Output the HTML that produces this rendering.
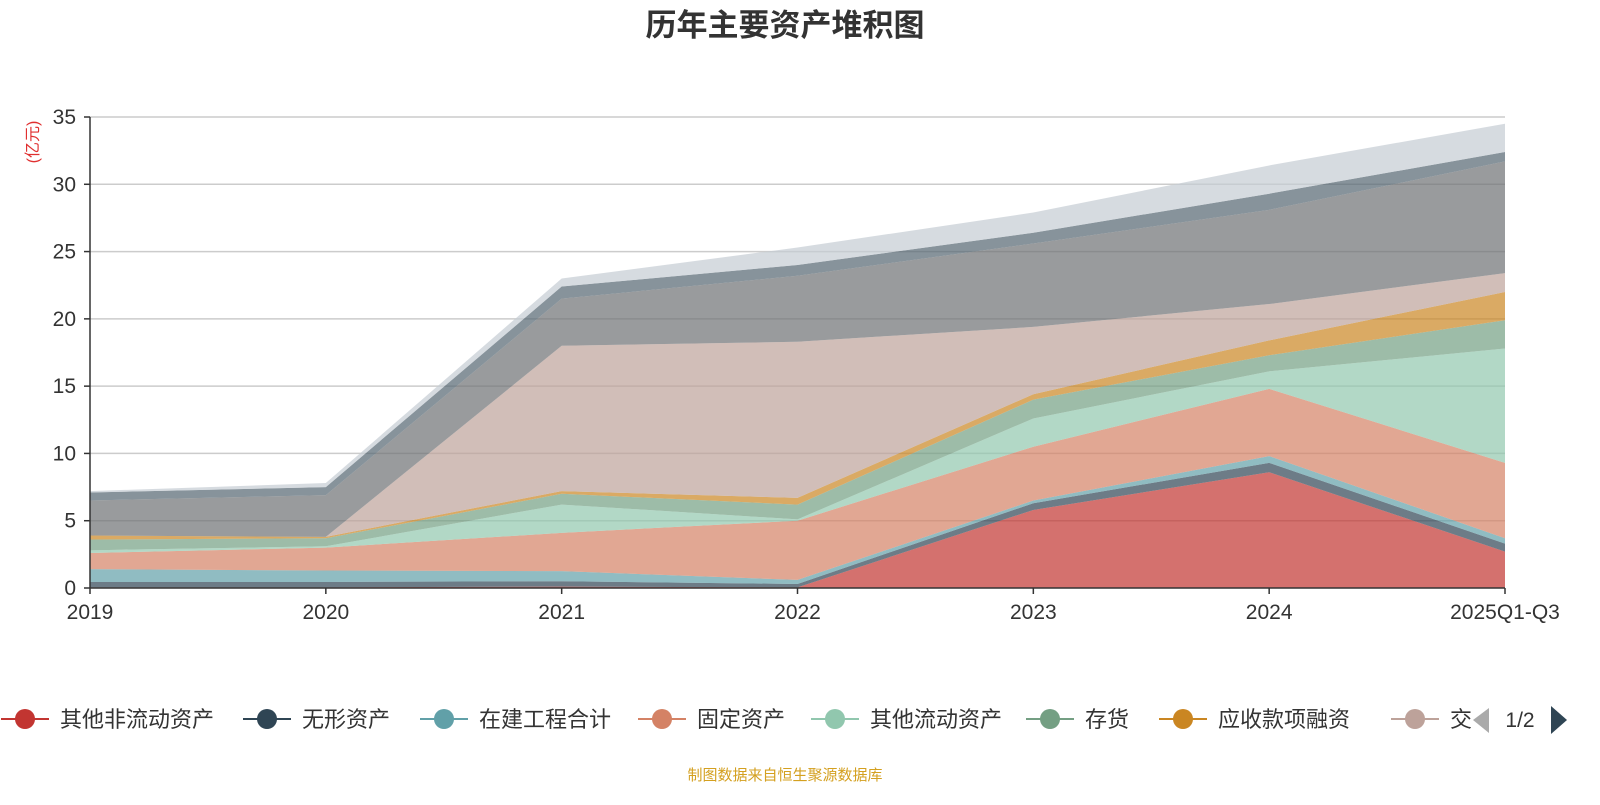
<!DOCTYPE html>
<html><head><meta charset="utf-8"><style>
body{margin:0;background:#fff;font-family:"Liberation Sans","Noto Sans CJK SC",sans-serif;}
svg text{font-family:"Liberation Sans","Noto Sans CJK SC",sans-serif;}
</style></head><body>
<svg id="chart" width="1600" height="800" xmlns="http://www.w3.org/2000/svg">
<text x="785" y="36" text-anchor="middle" font-size="31" font-weight="bold" fill="#333">历年主要资产堆积图</text>
<text transform="translate(38,142) rotate(-90)" text-anchor="middle" font-size="16" fill="#e03030">(亿元)</text>
<g id="grid"></g><g id="areas"></g><g id="axes"></g><g id="legend"></g>
<text x="785" y="780" text-anchor="middle" font-size="15" fill="#d4a020">制图数据来自恒生聚源数据库</text>
</svg>
<script>
const categories=["2019","2020","2021","2022","2023","2024","2025Q1-Q3"];
const seriesNames=["其他非流动资产","无形资产","在建工程合计","固定资产","其他流动资产","存货","应收款项融资","交易性金融资产","货币资金","应收账款","预付款项"];
const s1=[0.05,0.05,0.1,0.05,5.8,8.6,2.7];
const s2=[0.4,0.4,0.4,0.25,0.5,0.7,0.6];
const s3=[0.95,0.85,0.75,0.3,0.2,0.5,0.4];
const s4=[1.2,1.7,2.85,4.4,4.0,5.0,5.6];
const s5=[0.2,0.1,2.1,0.1,2.1,1.3,8.5];
const s6=[0.8,0.6,0.8,1.1,1.4,1.2,2.1];
const s7=[0.3,0.1,0.2,0.5,0.4,1.1,2.1];
const s8=[0.0,0.0,10.8,11.6,5.0,2.7,1.4];
const s9=[2.6,3.1,3.5,4.9,6.2,7.0,8.3];
const s10=[0.6,0.6,0.9,0.8,0.8,1.2,0.7];
const s11=[0.1,0.3,0.6,1.3,1.5,2.1,2.1];
const seriesValues=[s1,s2,s3,s4,s5,s6,s7,s8,s9,s10,s11];
const yTicks=[0,5,10,15,20,25,30,35];
const colors=["#c23531","#2f4554","#61a0a8","#d48265","#91c7ae","#749f83","#ca8622","#bda29a","#6e7074","#546570","#c4ccd3"];
const NS="http://www.w3.org/2000/svg";
const X0=90,X1=1505,Y0=588,Y1=117,YMAX=35;
const xs=i=>X0+i*(X1-X0)/(categories.length-1);
const ys=v=>Y0-v*(Y0-Y1)/YMAX;
function mk(tag,attrs,parent){const e=document.createElementNS(NS,tag);for(const k in attrs)e.setAttribute(k,attrs[k]);parent.appendChild(e);return e;}
const grid=document.getElementById('grid'),axes=document.getElementById('axes'),areas=document.getElementById('areas'),legend=document.getElementById('legend');
yTicks.forEach(t=>{
 if(t>0){const l=mk('line',{x1:X0,x2:X1,y1:ys(t),y2:ys(t),stroke:'#ccc','stroke-width':1.5},grid);
 
 }
 const tk=mk('line',{x1:X0-6,x2:X0,y1:ys(t),y2:ys(t),stroke:'#333','stroke-width':1.5},axes);
 
 
 const tx=mk('text',{x:X0-14,y:ys(t)+7,'text-anchor':'end','font-size':21,fill:'#333'},axes);tx.textContent=t;
 
 
});
let cum=categories.map(()=>0);
seriesValues.forEach((vals,si)=>{
 const low=cum.slice();cum=cum.map((c,i)=>c+vals[i]);
 let d='';cum.forEach((c,i)=>{d+=(i?'L':'M')+xs(i)+','+ys(c);});
 for(let i=low.length-1;i>=0;i--)d+='L'+xs(i)+','+ys(low[i]);
 const p=mk('path',{d:d+'Z',fill:colors[si],'fill-opacity':0.7},areas);
 
 
});
const xa=mk('line',{x1:X0,x2:X1,y1:Y0,y2:Y0,stroke:'#333','stroke-width':1.5},axes);


const ya=mk('line',{x1:X0,x2:X0,y1:Y1,y2:Y0,stroke:'#333','stroke-width':1.5},axes);


categories.forEach((c,i)=>{
 const tk=mk('line',{x1:xs(i),x2:xs(i),y1:Y0,y2:Y0+6,stroke:'#333','stroke-width':1.5},axes);
 
 
 const tx=mk('text',{x:xs(i),y:Y0+31,'text-anchor':'middle','font-size':21,fill:'#333'},axes);tx.textContent=c;
 
 
});
const legX=[25,267,444,662,835,1050,1183,1415];
legX.forEach((x,i)=>{
 const g=mk('g',{},legend);
 
 
 mk('line',{x1:x-24,x2:x+24,y1:719,y2:719,stroke:colors[i],'stroke-width':2},g);
 mk('circle',{cx:x,cy:719,r:10,fill:colors[i]},g);
 const t=mk('text',{x:x+35,y:727,'font-size':22,fill:'#333'},g);t.textContent=seriesNames[i];
 if(i===7){t.textContent='交';}
});
const pl=mk('path',{d:'M1489,708 L1473,720 L1489,733 Z',fill:'#aaa'},legend);


const pt=mk('text',{x:1520,y:727,'text-anchor':'middle','font-size':21,fill:'#333'},legend);pt.textContent='1/2';


const pn=mk('path',{d:'M1551,706 L1567,720 L1551,734 Z',fill:'#2f4554'},legend);


</script>
</body></html>
